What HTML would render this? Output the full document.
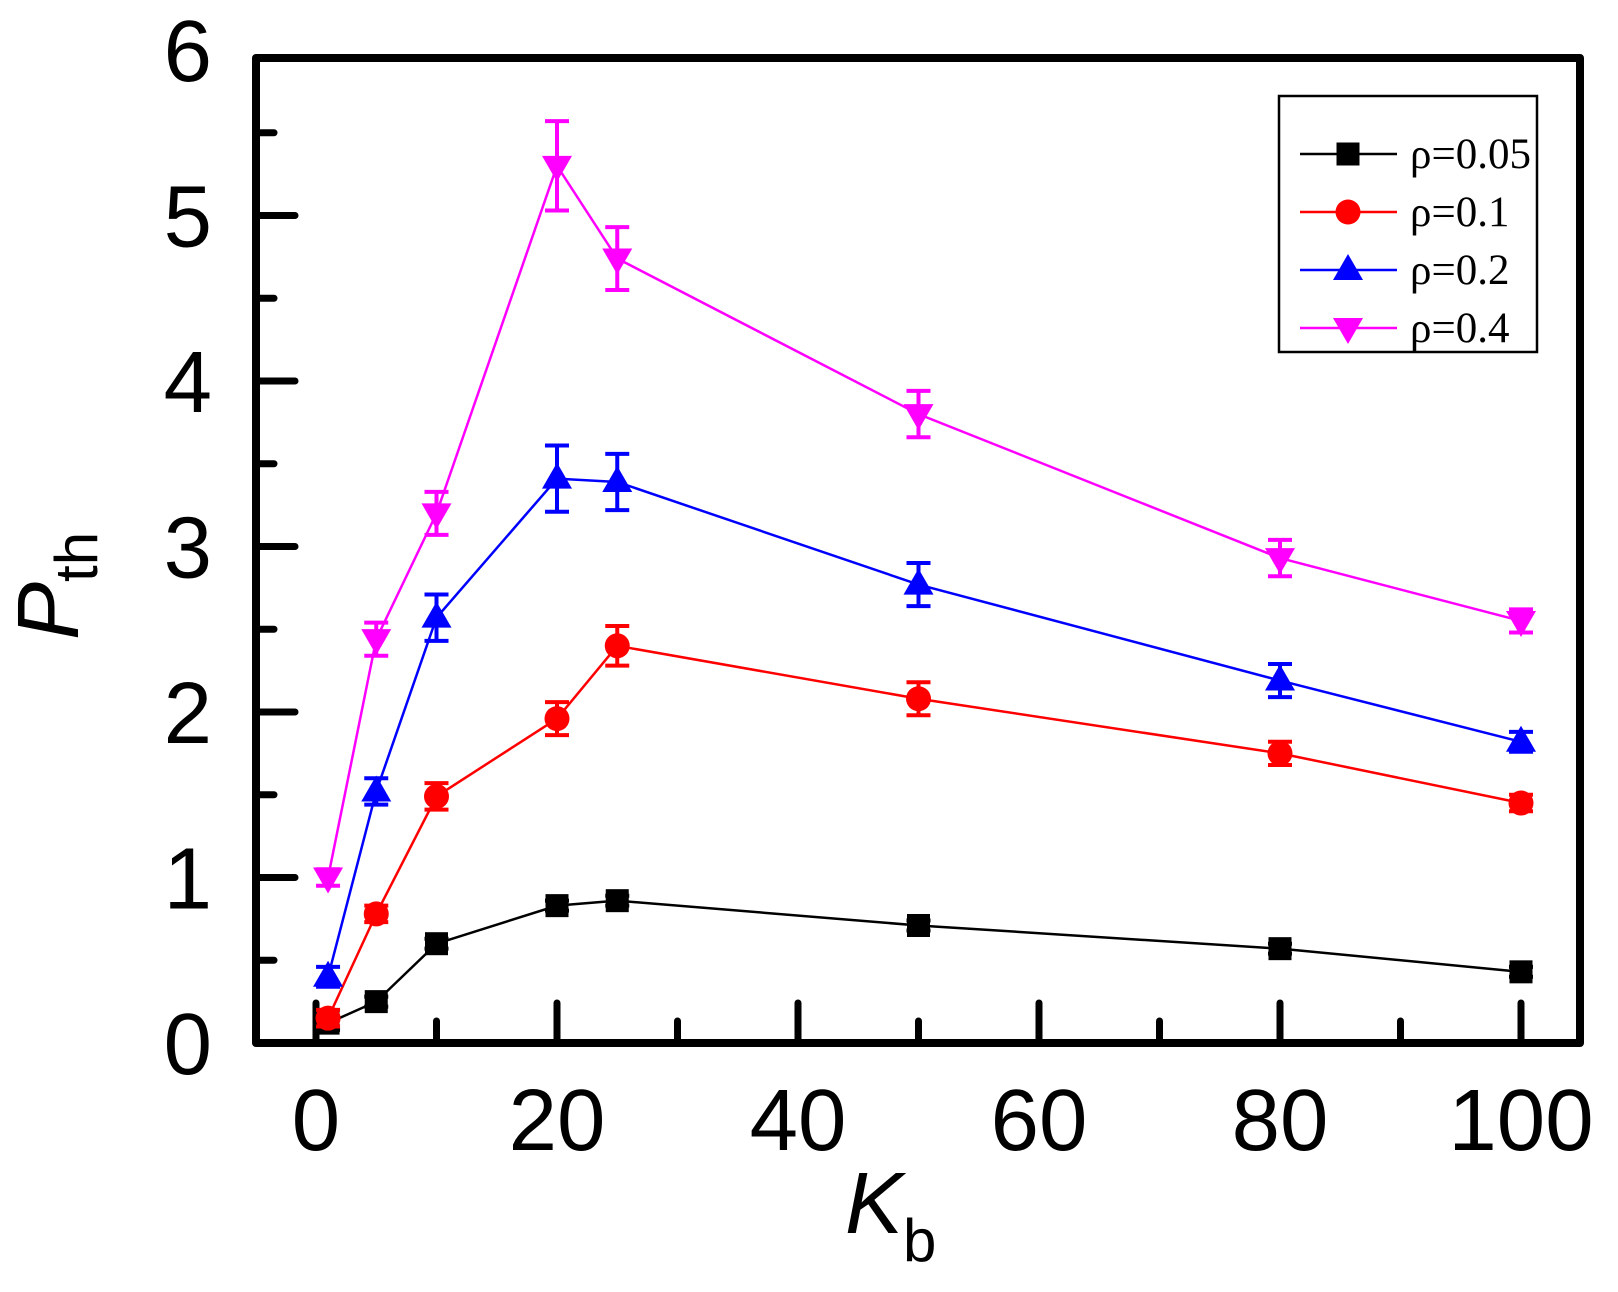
<!DOCTYPE html>
<html><head><meta charset="utf-8"><style>
html,body{margin:0;padding:0;background:#fff;}
svg{display:block;}
</style></head><body>
<svg id="s" width="1618" height="1292" xmlns="http://www.w3.org/2000/svg" font-family="Liberation Sans, sans-serif"></svg>
<script>
const s=document.getElementById('s');
const X=v=>316+v*12.05, Y=v=>1043-v*165.5;
let h='';
for(let v=0;v<=100;v+=10){const maj=v%20==0;h+=`<line x1="${X(v)}" x2="${X(v)}" y1="1043" y2="${maj?1003:1021}" stroke="#000" stroke-width="7" stroke-linecap="round"/>`;}
for(let v=0;v<=6;v+=0.5){const maj=v%1==0;
 if(v>0&&v<6)h+=`<line x1="256" x2="${maj?295:274}" y1="${Y(v)}" y2="${Y(v)}" stroke="#000" stroke-width="7" stroke-linecap="round"/>`;
 if(maj)h+=`<text x="212" y="${Y(v)+31}" font-size="87" text-anchor="end">${v}</text>`;}
for(let v=0;v<=100;v+=20)h+=`<text x="${X(v)}" y="1150" font-size="87" text-anchor="middle">${v}</text>`;
h+=`<rect x="256" y="58" width="1324" height="985" fill="none" stroke="#000" stroke-width="8" stroke-linejoin="round"/>`;
const xs=[1,5,10,20,25,50,80,100];
const S=[
 ['#000','sq',[0.12,0.25,0.6,0.83,0.86,0.71,0.57,0.43],[0.04,0.03,0.03,0.03,0.03,0.03,0.03,0.03]],
 ['#f00','ci',[0.15,0.78,1.49,1.96,2.4,2.08,1.75,1.45],[0.05,0.05,0.08,0.1,0.12,0.1,0.07,0.05]],
 ['#00f','tu',[0.4,1.52,2.57,3.41,3.39,2.77,2.19,1.82],[0.06,0.08,0.14,0.2,0.17,0.13,0.1,0.06]],
 ['#f0f','td',[1.0,2.44,3.2,5.3,4.74,3.8,2.93,2.55],[0.05,0.1,0.13,0.27,0.19,0.14,0.11,0.07]]];
function mk(t,c,x,y){
 if(t=='sq')return `<rect x="${x-11.5}" y="${y-11.5}" width="23" height="23" fill="${c}"/>`;
 if(t=='ci')return `<circle cx="${x}" cy="${y}" r="12.5" fill="${c}"/>`;
 if(t=='tu')return `<polygon points="${x-15},${y+10} ${x+15},${y+10} ${x},${y-16}" fill="${c}"/>`;
 return `<polygon points="${x-15},${y-10} ${x+15},${y-10} ${x},${y+16}" fill="${c}"/>`;}
for(const [c,t,ys,es] of S){
 h+=`<polyline fill="none" stroke="${c}" stroke-width="2.5" points="${xs.map((x,i)=>X(x)+','+Y(ys[i])).join(' ')}"/>`;
 xs.forEach((x,i)=>{const cx=X(x),a=Y(ys[i]+es[i]),b=Y(ys[i]-es[i]);
  h+=`<line x1="${cx}" x2="${cx}" y1="${a}" y2="${b}" stroke="${c}" stroke-width="4"/><line x1="${cx-12}" x2="${cx+12}" y1="${a}" y2="${a}" stroke="${c}" stroke-width="4"/><line x1="${cx-12}" x2="${cx+12}" y1="${b}" y2="${b}" stroke="${c}" stroke-width="4"/>`;
  h+=mk(t,c,cx,Y(ys[i]));});
}
h+=`<rect x="1279" y="96" width="258" height="256" fill="#fff" stroke="#000" stroke-width="2.5"/>`;
const L=['ρ=0.05','ρ=0.1','ρ=0.2','ρ=0.4'];
S.forEach(([c,t],i)=>{const y=154+i*58;
 h+=`<line x1="1300" x2="1397" y1="${y}" y2="${y}" stroke="${c}" stroke-width="2.5"/>`+mk(t,c,1348,y);
 h+=`<text x="1410" y="${y+14}" font-size="43" font-family="Liberation Serif, serif">${L[i]}</text>`;});
h+=`<text transform="translate(78,640) rotate(-90)" font-size="87"><tspan font-style="italic">P</tspan><tspan font-size="60" dy="19">th</tspan></text>`;
h+=`<text x="845" y="1233" font-size="87"><tspan font-style="italic">K</tspan><tspan font-size="60" dy="28">b</tspan></text>`;
s.innerHTML=h;
</script>
</body></html>
